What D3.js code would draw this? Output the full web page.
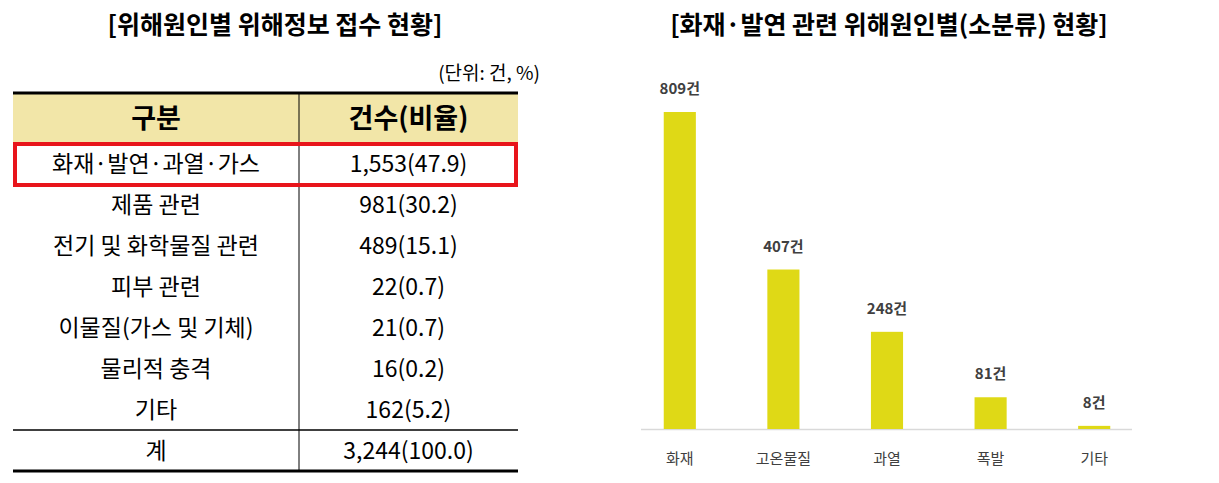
<!DOCTYPE html><html><head><meta charset="utf-8">
<script src="https://cdn.jsdelivr.net/npm/d3@7"></script>
<style>body{margin:0;background:#fff}</style></head><body>
<svg id="c" width="1219" height="483"></svg>
<script>
const rowLabels=["화재·발연·과열·가스","제품 관련","전기 및 화학물질 관련","피부 관련","이물질(가스 및 기체)","물리적 충격","기타","계"];
const rowValues=["1,553(47.9)","981(30.2)","489(15.1)","22(0.7)","21(0.7)","16(0.2)","162(5.2)","3,244(100.0)"];
const headers=["구분","건수(비율)"];
const barCats=["화재","고온물질","과열","폭발","기타"];
const barVals=[809,407,248,81,8];
(function(){
const F="'Noto Sans CJK KR','Noto Sans',sans-serif";
const svg=d3.select("#c");
svg.append("text").attr("x",275).attr("y",34).attr("text-anchor","middle").attr("font-family",F).attr("font-weight","bold").attr("font-size",25).text("[위해원인별 위해정보 접수 현황]");
svg.append("text").attr("x",889).attr("y",34).attr("text-anchor","middle").attr("font-family",F).attr("font-weight","bold").attr("font-size",25).text("[화재·발연 관련 위해원인별(소분류) 현황]");
svg.append("text").attr("x",540).attr("y",80).attr("text-anchor","end").attr("font-family",F).attr("font-size",19).text("(단위:  건,  %)");
const L=13,R=518,M=299,T0=93,hH=50,rH=41;
const y=i=>T0+hH+i*rH;
svg.append("rect").attr("x",L).attr("y",T0).attr("width",R-L).attr("height",hH).attr("fill","#f2e6a8");
svg.append("line").attr("x1",L).attr("x2",R).attr("y1",T0).attr("y2",T0).attr("stroke","#000").attr("stroke-width",3);
svg.append("line").attr("x1",L).attr("x2",R).attr("y1",T0+hH).attr("y2",T0+hH).attr("stroke","#000").attr("stroke-width",1);
svg.append("line").attr("x1",L).attr("x2",R).attr("y1",y(7)).attr("y2",y(7)).attr("stroke","#000").attr("stroke-width",1.5);
svg.append("line").attr("x1",L).attr("x2",R).attr("y1",y(8)).attr("y2",y(8)).attr("stroke","#000").attr("stroke-width",3);
svg.append("line").attr("x1",M).attr("x2",M).attr("y1",T0).attr("y2",y(8)).attr("stroke","#000").attr("stroke-width",1);
headers.forEach((h,i)=>svg.append("text").attr("x",i?(M+R)/2:(L+M)/2).attr("y",T0+hH/2+10).attr("text-anchor","middle").attr("font-family",F).attr("font-weight","bold").attr("font-size",27).text(h));
rowLabels.forEach((t,i)=>{
 svg.append("text").attr("x",(L+M)/2).attr("y",y(i)+rH/2+8).attr("text-anchor","middle").attr("font-family",F).attr("font-size",23).text(t);
 svg.append("text").attr("x",(M+R)/2).attr("y",y(i)+rH/2+8).attr("text-anchor","middle").attr("font-family",F).attr("font-size",23).text(rowValues[i]);
});
svg.append("rect").attr("x",L+2).attr("y",y(0)+1).attr("width",R-L-4).attr("height",rH).attr("fill","none").attr("stroke","#e8151b").attr("stroke-width",4);
const x=d3.scaleBand().domain(barCats).range([628,1146]).paddingInner(0.69).paddingOuter(0.345);
const ys=d3.scaleLinear().domain([0,809]).range([429,112]);
svg.append("line").attr("x1",641).attr("x2",1132).attr("y1",429.5).attr("y2",429.5).attr("stroke","#d9d9d9").attr("stroke-width",1.5);
svg.selectAll(".b").data(barVals).join("rect").attr("x",(d,i)=>x(barCats[i])).attr("width",x.bandwidth()).attr("y",d=>ys(d)).attr("height",d=>429-ys(d)).attr("fill","#dfd916");
svg.selectAll(".l").data(barVals).join("text").attr("x",(d,i)=>x(barCats[i])+x.bandwidth()/2).attr("y",d=>ys(d)-18).attr("text-anchor","middle").attr("font-family",F).attr("font-weight","bold").attr("font-size",15).attr("fill","#404040").text(d=>d+"건");
svg.selectAll(".c").data(barCats).join("text").attr("x",d=>x(d)+x.bandwidth()/2).attr("y",464).attr("text-anchor","middle").attr("font-family",F).attr("font-size",15).attr("fill","#404040").text(d=>d);
})();
</script></body></html>
